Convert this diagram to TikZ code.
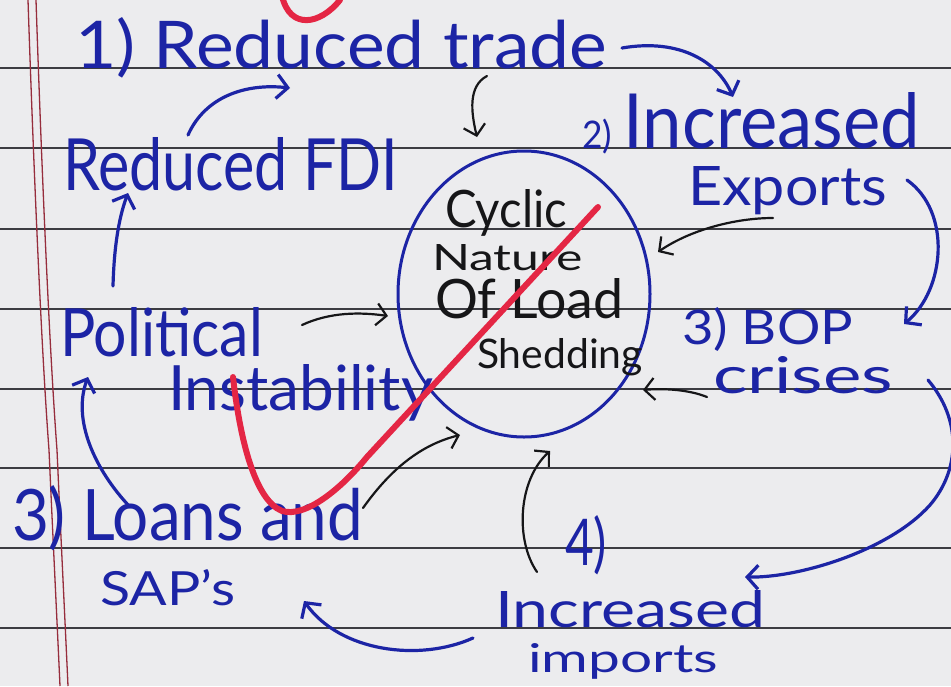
\documentclass[tikz,border=0pt]{standalone}
\usepackage{fontspec}
\setmainfont{Lato}
\usepackage{graphicx}
\usetikzlibrary{arrows.meta,shapes.geometric}
\definecolor{paper}{RGB}{236,236,238}
\definecolor{rulecol}{RGB}{60,60,66}
\definecolor{margincol}{RGB}{150,45,60}
\definecolor{ink}{RGB}{28,36,165}
\definecolor{blk}{RGB}{22,22,24}
\definecolor{redpen}{RGB}{228,38,68}
\newcommand{\fitbox}[3]{\resizebox{#1pt}{#2pt}{#3}}
\begin{document}
\begin{tikzpicture}[x=1pt,y=-1pt,
  lbl/.style={anchor=base west,inner sep=0pt,outer sep=0pt},
  bluetxt/.style={lbl,text=ink},
  blktxt/.style={lbl,text=blk},
  bluearrow/.style={draw=ink,line width=3.2pt,line cap=round,-{Straight Barb[length=11pt,width=24pt]}},
  blkarrow/.style={draw=blk,line width=2.2pt,line cap=round,-{Straight Barb[length=10pt,width=22pt]}},
  rulestyle/.style={draw=rulecol,line width=1.7pt},
  marginstyle/.style={draw=margincol,line width=1.3pt},
  redstroke/.style={draw=redpen,line width=6pt,line cap=round,line join=round}
  ]
% paper
\useasboundingbox (0,0) rectangle (951,686);
\fill[paper] (0,0) rectangle (951,686);
% ruled lines
\foreach \yy in {68,148,229,309,389,468,548,628}{
  \draw[rulestyle] (0,\yy) -- (951,\yy);
}
% margin lines
\draw[marginstyle] (28,0) .. controls (32,120) and (40,330) .. (49,450) .. controls (53,540) and (57,620) .. (60,686);
\draw[marginstyle] (36,0) .. controls (40,120) and (48,330) .. (57,450) .. controls (61,540) and (65,620) .. (68,686);

% circle
\node[draw=ink,line width=3pt,ellipse,minimum width=252pt,minimum height=286pt,inner sep=0pt] (circ) at (524,294) {};

% blue labels
\node[bluetxt] (t1) at (75,68) {\fitbox{532}{51}{1) Reduced trade}};
\node[bluetxt] (t2) at (582,148) {\fitbox{338}{56}{\scalebox{0.5}{2)}\,Increased}};
\node[bluetxt] (t3) at (688,205) {\fitbox{199}{39}{Exports}};
\node[bluetxt] (t4) at (682,344) {\fitbox{171}{37}{3) BOP}};
\node[bluetxt] (t5) at (713,393) {\fitbox{180}{37}{crises}};
\node[bluetxt] (t6) at (63,190) {\fitbox{335}{53}{Reduced FDI}};
\node[bluetxt] (t7) at (60,356) {\fitbox{203}{49}{Political}};
\node[bluetxt] (t8) at (168,410) {\fitbox{265}{46}{Instability}};
\node[bluetxt] (t13) at (12,540) {\fitbox{351}{55}{3) Loans and}};
\node[bluetxt] (t14) at (100,605) {\fitbox{135}{36}{SAP's}};
\node[bluetxt] (t15) at (565,565) {\fitbox{42}{50}{4)}};
\node[bluetxt] (t16) at (495,627) {\fitbox{270}{37}{Increased}};
\node[bluetxt] (t17) at (528,672) {\fitbox{190}{29}{imports}};

% black labels in circle
\node[blktxt] (c1) at (445,227) {\fitbox{122}{38}{Cyclic}};
\node[blktxt] (c2) at (432,270) {\fitbox{151}{26}{Nature}};
\node[blktxt] (c3) at (435,318) {\fitbox{188}{40}{Of Load}};
\node[blktxt] (c4) at (477,368) {\fitbox{166}{30}{Shedding}};

% connector end points
\coordinate (a1s) at (188,135); \coordinate (a1e) at (290,88);
\coordinate (a2s) at (487,76);  \coordinate (a2e) at (477,137);
\coordinate (a3s) at (622,48);  \coordinate (a3e) at (733,97);
\coordinate (a4s) at (773,218); \coordinate (a4e) at (658,252);
\coordinate (a5s) at (907,180); \coordinate (a5e) at (904,324);
\coordinate (a6s) at (707,397); \coordinate (a6e) at (643,390);
\coordinate (a7s) at (928,380); \coordinate (a7e) at (745,577);
\coordinate (a8s) at (537,572); \coordinate (a8e) at (550,451);
\coordinate (a9s) at (473,638); \coordinate (a9e) at (304,601);
\coordinate (a10s) at (130,507); \coordinate (a10e) at (88,377);
\coordinate (a11s) at (113,286); \coordinate (a11e) at (128,193);
\coordinate (a12s) at (302,325); \coordinate (a12e) at (388,316);
\coordinate (a13s) at (363,508); \coordinate (a13e) at (460,435);

% blue arrows
\draw[bluearrow] (a1s) .. controls (205,97) and (245,83) .. (a1e);
\draw[bluearrow] (a3s) .. controls (680,38) and (718,62) .. (a3e);
\draw[bluearrow] (a5s) .. controls (952,212) and (945,290) .. (a5e);
\draw[bluearrow] (a7s) .. controls (962,420) and (960,470) .. (930,505) .. controls (890,550) and (800,578) .. (a7e);
\draw[bluearrow] (a9s) .. controls (420,662) and (340,652) .. (a9e);
\draw[bluearrow] (a10s) .. controls (95,470) and (72,420) .. (a10e);
\draw[bluearrow] (a11s) .. controls (114,250) and (118,220) .. (a11e);

% black arrows
\draw[blkarrow] (a2s) .. controls (468,86) and (471,112) .. (a2e);
\draw[blkarrow] (a4s) .. controls (735,218) and (690,230) .. (a4e);
\draw[blkarrow] (a6s) .. controls (690,390) and (665,388) .. (a6e);
\draw[blkarrow] (a8s) .. controls (515,540) and (518,480) .. (a8e);
\draw[blkarrow] (a12s) .. controls (330,312) and (360,312) .. (a12e);
\draw[blkarrow] (a13s) .. controls (390,470) and (420,445) .. (a13e);

% red pen marks
\draw[redstroke] (282,-4) .. controls (290,30) and (320,25) .. (340,0);
\draw[redstroke] (233,377) .. controls (240,440) and (255,500) .. (282,511) .. controls (305,518) and (340,490) .. (367,457) -- (598,207);
\end{tikzpicture}
\end{document}
